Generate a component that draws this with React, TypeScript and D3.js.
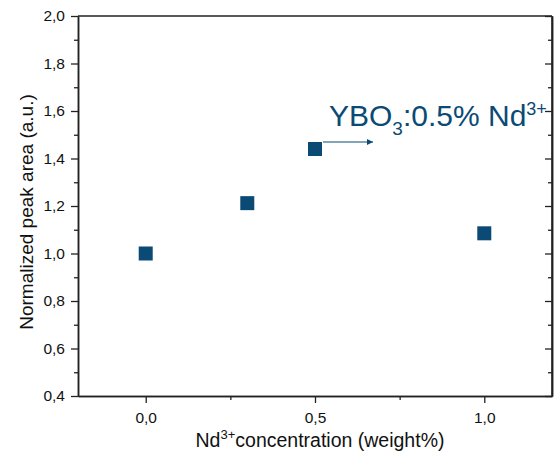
import * as d3 from "d3";
import { useEffect, useRef } from "react";

// data
const conc = [0.0, 0.3, 0.5, 1.0];
const peakArea = [1.0, 1.212, 1.44, 1.085];
const xTicks = [0, 0.5, 1.0];
const yTicks = [0.4, 0.6, 0.8, 1.0, 1.2, 1.4, 1.6, 1.8, 2.0];

const W = 555;
const H = 455;
const left = 78;
const right = 552;
const top = 16;
const bottom = 396;
const blue = "#0b4a74";
const font = "Arial, 'Liberation Sans', sans-serif";

export default function App() {
  const svgRef = useRef<SVGSVGElement>(null);

  useEffect(() => {
    const svg = d3.select(svgRef.current);
    svg.selectAll("*").remove();

    const x = d3.scaleLinear().domain([-0.2, 1.2]).range([left, right]);
    const y = d3.scaleLinear().domain([0.4, 2.0]).range([bottom, top]);
    const fmt = (d: number) => d3.format(".1f")(d).replace(".", ",");

    // minor ticks
    const xMinor = [0.25, 0.75];
    const yMinor = d3.range(0.5, 2.0, 0.2);

    const g = svg.append("g");

    // bottom axis
    const xAxis = d3.axisBottom(x).tickValues(xTicks).tickFormat((d) => fmt(+d)).tickSize(7).tickSizeOuter(0);
    const gx = g.append("g").attr("transform", `translate(0,${bottom})`).call(xAxis);
    g.append("g")
      .attr("transform", `translate(0,${bottom})`)
      .call(d3.axisBottom(x).tickValues(xMinor).tickFormat(() => "").tickSize(4).tickSizeOuter(0));

    // left axis
    const yAxis = d3.axisLeft(y).tickValues(yTicks).tickFormat((d) => fmt(+d)).tickSize(7).tickSizeOuter(0);
    const gy = g.append("g").attr("transform", `translate(${left},0)`).call(yAxis);
    g.append("g")
      .attr("transform", `translate(${left},0)`)
      .call(d3.axisLeft(y).tickValues(yMinor).tickFormat(() => "").tickSize(4).tickSizeOuter(0));

    // right axis, ticks pointing in
    g.append("g")
      .attr("transform", `translate(${right},0)`)
      .call(d3.axisLeft(y).tickValues(yTicks).tickFormat(() => "").tickSize(7).tickSizeOuter(0));
    g.append("g")
      .attr("transform", `translate(${right},0)`)
      .call(d3.axisLeft(y).tickValues(yMinor).tickFormat(() => "").tickSize(4).tickSizeOuter(0));

    // top line
    g.append("line")
      .attr("x1", left).attr("x2", right)
      .attr("y1", top).attr("y2", top)
      .attr("stroke", "#222").attr("stroke-width", 1.5);
    g.append("line")
      .attr("x1", right).attr("x2", right)
      .attr("y1", top).attr("y2", bottom)
      .attr("stroke", "#222").attr("stroke-width", 1.5);

    g.selectAll(".domain").attr("stroke", "#222").attr("stroke-width", 1.5);
    g.selectAll(".tick line").attr("stroke", "#222").attr("stroke-width", 1.3);
    g.selectAll(".tick text")
      .attr("font-family", font)
      .attr("font-size", 15.5)
      .attr("fill", "#111");
    gx.selectAll(".tick text").attr("y", 16);
    gy.selectAll(".tick text").attr("x", -13);

    // markers
    const s = 14;
    svg.append("g")
      .selectAll("rect")
      .data(conc)
      .join("rect")
      .attr("x", (d) => x(d) - s / 2)
      .attr("y", (d, i) => y(peakArea[i]) - s / 2)
      .attr("width", s)
      .attr("height", s)
      .attr("fill", blue);

    // annotation arrow
    const ax = x(conc[2]) + s / 2 + 1;
    const ay = y(peakArea[2]) - 7;
    svg.append("defs").append("marker")
      .attr("id", "arr")
      .attr("viewBox", "0 0 10 10")
      .attr("refX", 10).attr("refY", 5)
      .attr("markerWidth", 9).attr("markerHeight", 6)
      .attr("markerUnits", "userSpaceOnUse")
      .attr("orient", "auto")
      .append("path").attr("d", "M0,0L10,5L0,10z").attr("fill", blue);
    svg.append("line")
      .attr("x1", ax).attr("x2", ax + 50)
      .attr("y1", ay).attr("y2", ay)
      .attr("stroke", blue).attr("stroke-width", 1.2)
      .attr("marker-end", "url(#arr)");

    const t = svg.append("text")
      .attr("x", 329).attr("y", 126)
      .attr("font-family", font).attr("font-size", 30)
      .attr("fill", blue);
    t.append("tspan").text("YBO");
    t.append("tspan").attr("font-size", 19).attr("dy", 9).text("3");
    t.append("tspan").attr("dy", -9).text(":0.5% Nd");
    t.append("tspan").attr("font-size", 18).attr("dy", -11).text("3+");

    // axis titles
    const xt = svg.append("text")
      .attr("x", (left + right) / 2 + 5).attr("y", 447)
      .attr("text-anchor", "middle")
      .attr("font-family", font).attr("font-size", 19.5).attr("fill", "#111");
    xt.append("tspan").text("Nd");
    xt.append("tspan").attr("font-size", 13).attr("dy", -8).text("3+");
    xt.append("tspan").attr("dy", 8).text("concentration (weight%)");

    svg.append("text")
      .attr("transform", `translate(33,212) rotate(-90)`)
      .attr("text-anchor", "middle")
      .attr("font-family", font).attr("font-size", 19).attr("fill", "#111")
      .text("Normalized peak area (a.u.)");
  }, []);

  return (
    <svg
      ref={svgRef}
      width={W}
      height={H}
      style={{ position: "absolute", left: 0, top: 0, background: "#fff" }}
    />
  );
}
